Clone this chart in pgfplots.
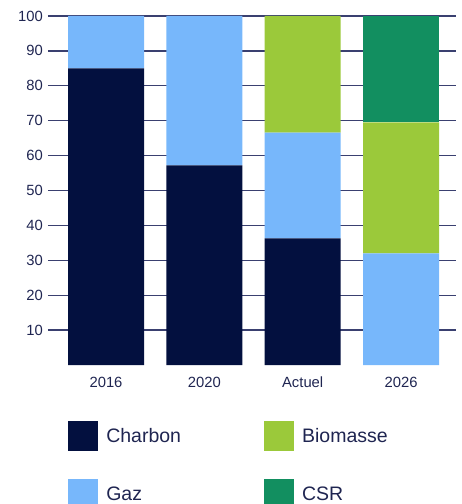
\documentclass[border=0pt]{standalone}
\usepackage{pgfplots}
\pgfplotsset{compat=1.18}
\usepackage{fontspec}
\setmainfont{Liberation Sans}
\definecolor{charbon}{HTML}{03103F}
\definecolor{gaz}{HTML}{77B7FB}
\definecolor{biomasse}{HTML}{9BC93A}
\definecolor{csr}{HTML}{128F60}
\definecolor{txt}{HTML}{1F2551}
\definecolor{grd}{HTML}{3A4070}
\begin{document}
\begin{tikzpicture}[x=1pt,y=1pt]
\path[use as bounding box] (0,0) rectangle (462,504);
\clip (0,0) rectangle (462,504);
\begin{axis}[
  at={(48pt,139pt)}, anchor=south west,
  scale only axis, width=408pt, height=349pt,
  ybar stacked, bar width=76pt,
  xmin=-0.590, xmax=3.559, ymin=0, ymax=100,
  xtick={0,1,2,3}, xticklabels={2016,2020,Actuel,2026},
  ytick={10,20,...,100},
  axis line style={draw=none},
  major tick length=0pt,
  tick style={draw=none},
  ymajorgrids, grid style={grd, line width=1.3pt},
  /pgf/number format/assume math mode=true,
  ticklabel style={font=\fontsize{14.8}{16}\selectfont, text=txt},
  yticklabel style={anchor=east, inner sep=0pt, xshift=-5pt},
  xticklabel style={anchor=north, inner sep=0pt, yshift=-12pt},
  legend columns=2, transpose legend,
  legend style={at={(0.04926,-0.1605)}, anchor=north west, draw=none, fill=none,
    inner sep=0pt, font=\fontsize{19.5}{22}\selectfont, text=txt,
    row sep=28pt, cells={anchor=west},
    /tikz/every odd column/.append style={column sep=6pt},
    /tikz/every even column/.append style={column sep=81pt}},
  legend image code/.code={\fill[#1] (0pt,-15pt) rectangle (30pt,15pt);},
]
\addplot[fill=charbon, draw=none] coordinates {(0,85) (1,57.2) (2,36.3) (3,0)};
\addplot[fill=gaz, draw=none] coordinates {(0,15) (1,42.8) (2,30.3) (3,32)};
\addplot[fill=biomasse, draw=none] coordinates {(0,0) (1,0) (2,33.4) (3,37.5)};
\addplot[fill=csr, draw=none] coordinates {(0,0) (1,0) (2,0) (3,30.5)};
\legend{Charbon,Gaz,Biomasse,CSR}
\end{axis}
\end{tikzpicture}
\end{document}
